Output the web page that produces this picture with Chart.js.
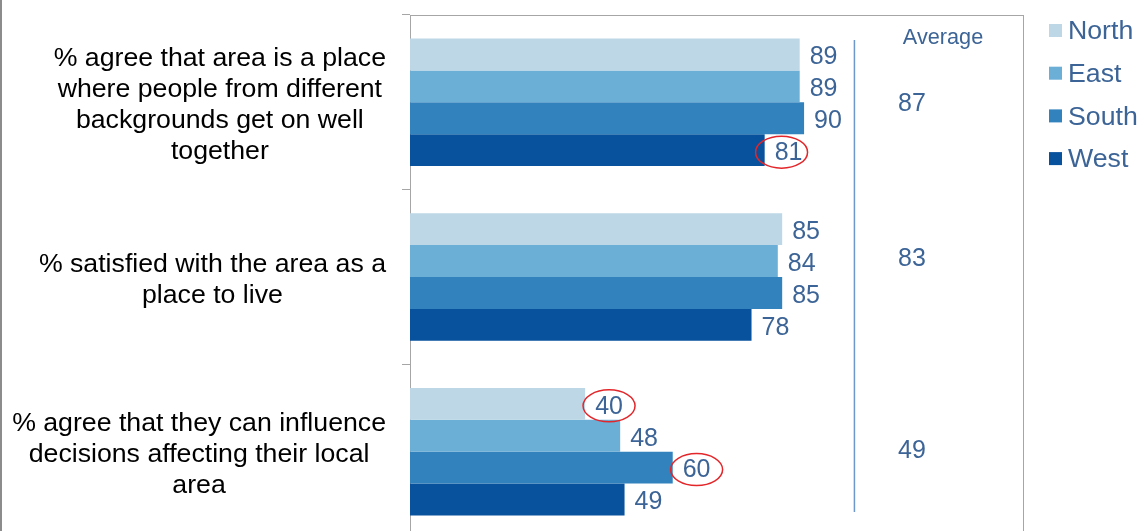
<!DOCTYPE html>
<html>
<head>
    <title>Local area perceptions</title>
    <script src="https://cdn.jsdelivr.net/npm/chart.js"></script>
    <style>
        html, body { margin: 0; padding: 0; background: #fff; overflow: hidden; }
    </style>
</head>
<body>
    <canvas id="myChart" width="1141" height="540"></canvas>
    <script>
        var categories = [
            ['% agree that area is a place', 'where people from different', 'backgrounds get on well', 'together'],
            ['% satisfied with the area as a', 'place to live'],
            ['% agree that they can influence', 'decisions affecting their local', 'area']
        ];
        var seriesNames = ['North', 'East', 'South', 'West'];
        var north = [89, 85, 40];
        var east = [89, 84, 48];
        var south = [90, 85, 60];
        var west = [81, 78, 49];
        var averages = [87, 83, 49];
        // [category index, series index] of the circled labels
        var circled = [[0, 3], [2, 0], [2, 2]];

        var colors = ['#BDD7E7', '#6BAED6', '#3182BD', '#08519C'];
        var textBlue = '#3C6496';
        var fontName = '"Liberation Sans", Arial, sans-serif';

        var overlay = {
            id: 'overlay',
            afterDatasetsDraw: function(chart) {
                var ctx = chart.ctx;
                var area = chart.chartArea;
                var xs = chart.scales.x, ys = chart.scales.y;
                ctx.save();

                // right frame and left page edge
                ctx.strokeStyle = '#A6A6A6';
                ctx.lineWidth = 1;
                ctx.beginPath();
                ctx.moveTo(area.right + 0.5, area.top);
                ctx.lineTo(area.right + 0.5, area.bottom);
                ctx.stroke();
                ctx.strokeStyle = '#8C8C8C';
                ctx.lineWidth = 2;
                ctx.beginPath();
                ctx.moveTo(1, 0);
                ctx.lineTo(1, chart.height);
                ctx.stroke();

                // category labels, each block centred on itself, right edge at 386
                ctx.font = '26.7px ' + fontName;
                ctx.fillStyle = '#000';
                ctx.textAlign = 'center';
                ctx.textBaseline = 'middle';
                categories.forEach(function(lines, i) {
                    var w = 0;
                    lines.forEach(function(l) { w = Math.max(w, ctx.measureText(l).width); });
                    var cx = 386 - w / 2;
                    var cy = ys.getPixelForValue(i) + 3;
                    lines.forEach(function(l, j) {
                        ctx.fillText(l, cx, cy + (j - (lines.length - 1) / 2) * 31);
                    });
                });

                // value labels
                ctx.font = '25px ' + fontName;
                ctx.fillStyle = textBlue;
                ctx.textAlign = 'left';
                var labelPos = {};
                chart.data.datasets.forEach(function(ds, d) {
                    chart.getDatasetMeta(d).data.forEach(function(bar, i) {
                        var txt = String(ds.data[i]);
                        var tx = bar.x + 10;
                        ctx.fillText(txt, tx, bar.y + 3);
                        labelPos[i + '_' + d] = { x: tx + ctx.measureText(txt).width / 2, y: bar.y + 2 };
                    });
                });

                // red ellipses
                ctx.strokeStyle = '#E3262A';
                ctx.lineWidth = 1.5;
                circled.forEach(function(c, k) {
                    var p = labelPos[c[0] + '_' + c[1]];
                    var shift = k === 0 ? -7 : 0;
                    ctx.beginPath();
                    ctx.ellipse(p.x + shift, p.y, 26, 16, 0, 0, Math.PI * 2);
                    ctx.stroke();
                });

                // average column
                var lx = xs.getPixelForValue(101.5);
                ctx.strokeStyle = '#6E97CC';
                ctx.lineWidth = 1.5;
                ctx.beginPath();
                ctx.moveTo(lx, area.top + 25);
                ctx.lineTo(lx, area.bottom - 27);
                ctx.stroke();

                ctx.font = '21.7px ' + fontName;
                ctx.textAlign = 'center';
                ctx.fillText('Average', 943, 38);
                ctx.font = '25px ' + fontName;
                var nudge = [2, -18, -1];
                averages.forEach(function(v, i) {
                    ctx.fillText(String(v), 912, ys.getPixelForValue(i) + nudge[i]);
                });

                // legend
                ctx.textAlign = 'left';
                ctx.font = '26.7px ' + fontName;
                seriesNames.forEach(function(name, i) {
                    var y = 30 + i * 42.7;
                    ctx.fillStyle = colors[i];
                    ctx.fillRect(1049, y - 6, 13, 13);
                    ctx.fillStyle = textBlue;
                    ctx.fillText(name, 1068, y + 2);
                });

                ctx.restore();
            }
        };

        var ctx = document.getElementById('myChart').getContext('2d');
        var chart = new Chart(ctx, {
            type: 'bar',
            data: {
                labels: categories.map(function(c) { return c.join(' '); }),
                datasets: [north, east, south, west].map(function(vals, i) {
                    return {
                        label: seriesNames[i],
                        data: vals,
                        backgroundColor: colors[i],
                        borderWidth: 0,
                        categoryPercentage: 0.73,
                        barPercentage: 1.0
                    };
                })
            },
            options: {
                indexAxis: 'y',
                responsive: false,
                animation: false,
                layout: { padding: { top: 15, right: 118, bottom: 1, left: 0 } },
                plugins: {
                    legend: { display: false },
                    tooltip: { enabled: false }
                },
                scales: {
                    x: {
                        position: 'top',
                        min: 0,
                        max: 140,
                        ticks: { display: false },
                        grid: { display: false },
                        border: { display: true, color: '#A6A6A6', width: 1 },
                        afterFit: function(scale) { scale.height = 0; }
                    },
                    y: {
                        ticks: { display: false },
                        grid: {
                            offset: true,
                            drawOnChartArea: false,
                            drawTicks: true,
                            tickLength: 8,
                            color: '#A6A6A6'
                        },
                        border: { display: true, color: '#A6A6A6', width: 1 },
                        afterFit: function(scale) { scale.width = 410; }
                    }
                }
            },
            plugins: [overlay]
        });
    </script>
</body>
</html>
